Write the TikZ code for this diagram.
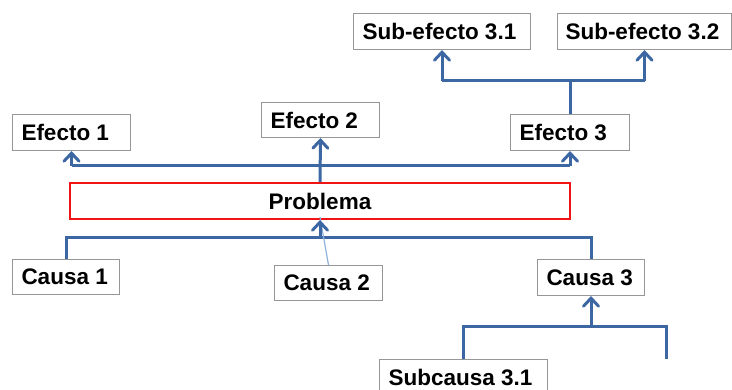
\documentclass[tikz,border=0pt]{standalone}
\usepackage{fontspec}
\setmainfont{Liberation Sans}
\usetikzlibrary{arrows.meta}
\definecolor{linkblue}{RGB}{61,103,163}
\definecolor{paleblue}{RGB}{140,178,220}
\definecolor{boxgray}{RGB}{150,150,150}
\definecolor{probred}{RGB}{240,20,20}
\begin{document}
\begin{tikzpicture}[x=1pt,y=-1pt,
  label font/.style={font=\fontsize{22.5pt}{25pt}\selectfont\bfseries},
  box/.style={draw=boxgray, line width=1pt, fill=white, anchor=north west,
    inner xsep=9pt, inner ysep=0pt, align=flush left, label font},
  link/.style={draw=linkblue, line width=3pt},
  arr/.style={link, -{Straight Barb[length=8pt,width=15pt,line cap=round]}},
  thin/.style={draw=paleblue, line width=1.2pt}]
\useasboundingbox (0,0) rectangle (732,390);

% effect boxes
\node[box, text width=100pt, minimum height=36pt] (e1) at (12,114) {Efecto 1};
\node[box, text width=100pt, minimum height=35pt] (e2) at (261,102) {Efecto 2};
\node[box, text width=101pt, minimum height=36pt] (e3) at (510,114) {Efecto 3};
\node[box, text width=159pt, minimum height=36pt] (s31) at (353,13) {Sub-efecto 3.1};
\node[box, text width=158pt, inner xsep=8pt, minimum height=36pt] (s32) at (557,13) {Sub-efecto 3.2};

% central problem
\node[draw=probred, line width=2pt, minimum width=500pt, minimum height=36pt,
  label font] (prob) at (320,201) {Problema};

% cause boxes
\node[box, text width=89pt, minimum height=35pt] (c1) at (12,259) {Causa 1};
\node[box, text width=90pt, minimum height=35pt] (c2) at (274,265) {Causa 2};
\node[box, text width=89pt, minimum height=36pt] (c3) at (537,259) {Causa 3};
\node[box, text width=150pt, minimum height=36pt] (sc31) at (379,359) {Subcausa 3.1};

% bar levels
\coordinate (eb) at (320,166);
\coordinate (sb) at (569,81);
\coordinate (cb) at (320,238);
\coordinate (scb) at (589,327);
\coordinate (open) at (666,359);

% effects
\draw[arr] (prob.north) -- (e2.south);
\draw[link] (e1.south |- eb) -- (e3.south |- eb);
\draw[arr] (e1.south |- eb) -- (e1.south);
\draw[arr] (e3.south |- eb) -- (e3.south);

% sub-effects
\draw[link] (e3.north) -- (e3.north |- sb);
\draw[link] (s31.south |- sb) -- (s32.south |- sb);
\draw[arr] (s31.south |- sb) -- (s31.south);
\draw[arr] (s32.south |- sb) -- (s32.south);

% causes
\draw[link] (c1.north) -- (c1.north |- cb) -- (c3.north |- cb) -- (c3.north);
\draw[thin] (c2.north) -- ([yshift=3pt]prob.south);
\draw[arr] (cb) -- (prob.south);

% sub-causes
\draw[link] (sc31.north) -- (sc31.north |- scb) -- (open |- scb) -- (open);
\draw[arr] (c3.south |- scb) -- (c3.south);
\end{tikzpicture}
\end{document}
